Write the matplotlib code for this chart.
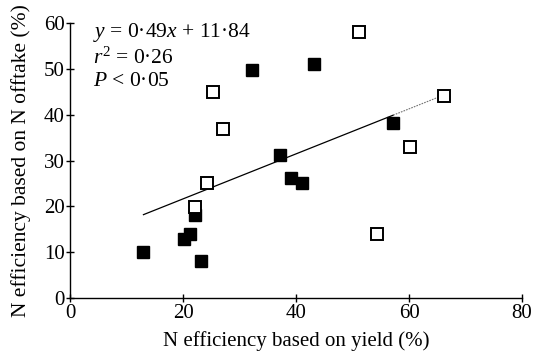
import matplotlib
matplotlib.use("Agg")
import matplotlib.pyplot as plt
import numpy as np

plt.rcParams['font.family'] = ['Liberation Serif', 'DejaVu Serif']
plt.rcParams['mathtext.fontset'] = 'custom'
plt.rcParams['mathtext.rm'] = 'Liberation Serif'
plt.rcParams['mathtext.it'] = 'Liberation Serif:italic'

# Data
filled_x = [13.0, 20.2, 21.2, 22.1, 23.1, 32.2, 37.2, 39.2, 41.0, 43.2, 57.2]
filled_y = [10.0, 13.0, 14.1, 18.1, 8.1, 49.8, 31.1, 26.1, 25.1, 50.9, 38.1]
open_x = [22.1, 24.2, 25.3, 27.1, 51.2, 54.3, 60.1, 66.2]
open_y = [19.9, 25.1, 44.9, 36.9, 58.0, 14.0, 33.0, 44.0]
slope = 0.49
intercept = 11.84
fit_range = [13.0, 57.2, 66.2]
x_ticks = [0, 20, 40, 60, 80]
y_ticks = [0, 10, 20, 30, 40, 50, 60]

fig = plt.figure(figsize=(5.34, 3.57), dpi=100)
ax = fig.add_axes([70/534, 1-298.3/357, (522-70)/534, (298.3-22.7)/357])

# regression line
xs1 = np.array(fit_range[:2])
ax.plot(xs1, slope*xs1 + intercept, color='black', lw=0.9, zorder=1)
xs2 = np.array(fit_range[1:])
ax.plot(xs2, slope*xs2 + intercept, color='0.45', lw=0.8, ls=(0, (1.5, 1)), zorder=1)

ax.plot(filled_x, filled_y, ls='none', marker='s', ms=8, mfc='black', mec='black', mew=1.0, zorder=3)
ax.plot(open_x, open_y, ls='none', marker='s', ms=8, mfc='white', mec='black', mew=1.4, zorder=3)

ax.set_xlim(0, 80)
ax.set_ylim(0, 60)
ax.set_xticks(x_ticks)
ax.set_yticks(y_ticks)
for s in ['top', 'right']:
    ax.spines[s].set_visible(False)
for s in ['left', 'bottom']:
    ax.spines[s].set_linewidth(1.0)
ax.tick_params(direction='inout', length=6, width=1.0, labelsize=15, pad=1)

ax.set_xlabel('N efficiency based on yield (%)', fontsize=15, labelpad=6)
ax.set_ylabel('N efficiency based on N offtake (%)', fontsize=15.5, labelpad=9)

ax.text(0.051, 0.963, r'$y$ = 0·49$x$ + 11·84', transform=ax.transAxes, fontsize=15.5, va='center', ha='left')
ax.text(0.051, 0.871, r'$r^2$ = 0·26', transform=ax.transAxes, fontsize=15.5, va='center', ha='left')
ax.text(0.051, 0.785, r'$P$ < 0·05', transform=ax.transAxes, fontsize=15.5, va='center', ha='left')

fig.savefig('out.png', dpi=100)
